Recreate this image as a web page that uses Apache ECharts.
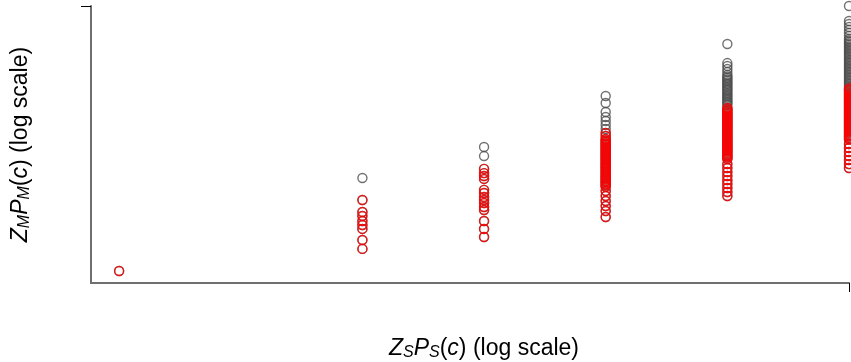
<!DOCTYPE html>
<html>
<head>
<meta charset="utf-8">
<script src="https://cdn.jsdelivr.net/npm/echarts@6/dist/echarts.min.js"></script>
<style>
    html, body { margin: 0; padding: 0; background: #fff; }
    #chart { width: 851px; height: 362px; }
</style>
</head>
<body>
<div id="chart"></div>
<script>
/* x levels (log scale) */
var xLevels = [1, 4, 8, 16, 32, 64];

/* points shown only in grey, per x level */
var greyOnly = [
    [],
    [13.7],
    [29.7, 23.7],
    [106, 89.1, 71.1, 62.8, 56.9, 51.4, 46.6],
    [388, 241, 224, 208, 193,
     179, 172, 166, 160, 154, 148, 143, 138, 133, 128, 123, 119, 114, 110, 106, 102, 98.4, 94.8, 91.3, 87.9, 84.7],
    [1000, 688, 638, 593, 550, 510, 473, 439,
     423, 408, 393, 378, 364, 351, 338, 326, 314, 302, 291, 280, 270, 260, 251, 241,
     233, 224, 216, 208, 200, 193, 186, 179, 172, 166, 160, 154, 148, 143, 138, 133]
];

/* points highlighted in red, per x level */
var redPoints = [
    [1.35],
    [7.92, 5.87, 5.32, 4.69, 4.25, 3.85, 2.92, 2.34],
    [17.2, 15.5, 14.4, 13.4, 10.2, 9.44, 8.54, 7.92, 7.35, 6.65, 6.18, 4.69, 3.85, 3.15],
    [42.2, 39.1,
     36.3, 34.9, 33.7, 32.4, 31.2, 30.1, 29.0, 27.9, 26.9, 25.9, 25.0, 24.0, 23.2, 22.3, 21.5, 20.7, 19.9,
     19.2, 18.5, 17.8, 17.2, 16.5, 15.9, 15.3, 14.8, 14.2, 13.7, 13.2, 12.7, 12.3, 11.8, 11.4, 11.0,
     9.92, 8.76, 7.73, 6.82, 6.02, 5.19],
    [78.6, 75.7, 72.9, 70.2, 67.7, 65.2, 62.8, 60.5, 58.3, 56.1, 54.1, 52.1, 50.2, 48.3, 46.6, 44.8, 43.2, 41.6,
     40.1, 38.6, 37.2, 35.8, 34.5, 33.2, 32.0, 30.8, 29.7, 28.6, 27.6, 26.6, 25.6, 24.6, 23.7, 22.9, 22.0,
     19.4, 17.6, 15.9, 14.4, 13.0, 11.8, 10.7, 9.67, 8.76],
    [128, 123, 119, 114, 110, 106, 102, 98.4, 94.8, 91.3, 87.9, 84.7, 81.6, 78.6, 75.7, 72.9, 70.2, 67.7,
     65.2, 62.8, 60.5, 58.3, 56.1, 54.1, 52.1, 50.2, 48.3, 46.6, 44.8, 43.2, 41.6, 40.1, 38.6, 37.2, 35.8,
     32.0, 29.0, 26.2, 23.7, 21.5, 19.4, 17.6]
];

function toPairs(lists) {
    var out = [];
    for (var i = 0; i < xLevels.length; i++) {
        for (var j = 0; j < lists[i].length; j++) {
            out.push([xLevels[i], lists[i][j]]);
        }
    }
    return out;
}

var greyData = toPairs(greyOnly).concat(toPairs(redPoints));
var redData = toPairs(redPoints);

var font = 'Liberation Sans';
var richName = {
    i: { fontStyle: 'italic', fontSize: 23, fontFamily: font, color: '#000' },
    s: { fontStyle: 'italic', fontSize: 16, fontFamily: font, color: '#000', verticalAlign: 'bottom', padding: [9, 0, 0, 0] },
    n: { fontSize: 23, fontFamily: font, color: '#000' }
};

var axisLine = { show: true, lineStyle: { color: '#6f6f6f', width: 2 } };

var myChart = echarts.init(document.getElementById('chart'));

var option = {
    animation: false,
    backgroundColor: '#fff',
    grid: { left: 91, right: 2, top: 6, bottom: 79, outerBoundsMode: 'none', containLabel: false },
    xAxis: {
        type: 'log',
        logBase: 2,
        min: 0.852,
        max: 64,
        name: '{i|Z}{s|S}{i|P}{s|S}{n|(}{i|c}{n|) (log scale)}',
        nameLocation: 'middle',
        nameGap: 53,
        nameTextStyle: { fontFamily: font, fontSize: 23, color: '#000', rich: richName, padding: [0, 0, 0, 28] },
        axisLine: axisLine,
        axisTick: { show: true, customValues: [64], length: 9, lineStyle: { color: '#000', width: 1 } },
        axisLabel: { show: false },
        splitLine: { show: false },
        minorTick: { show: false }
    },
    yAxis: {
        type: 'log',
        logBase: 10,
        min: 1,
        max: 1000,
        name: '{i|Z}{s|M}{i|P}{s|M}{n|(}{i|c}{n|) (log scale)}',
        nameLocation: 'middle',
        nameGap: 58,
        nameRotate: 90,
        nameTextStyle: { fontFamily: font, fontSize: 23, color: '#000', rich: richName },
        axisLine: axisLine,
        axisTick: { show: true, customValues: [1000], length: 10, lineStyle: { color: '#000', width: 1 } },
        axisLabel: { show: false },
        splitLine: { show: false },
        minorTick: { show: false }
    },
    series: [
        {
            name: 'all',
            type: 'scatter',
            symbol: 'circle',
            symbolSize: 9,
            clip: false,
            itemStyle: { color: 'rgba(0,0,0,0)', borderColor: '#4d4d4d', borderWidth: 1.4 },
            data: greyData
        },
        {
            name: 'highlighted',
            type: 'scatter',
            symbol: 'circle',
            symbolSize: 9,
            clip: false,
            itemStyle: { color: 'rgba(0,0,0,0)', borderColor: '#ff0000', borderWidth: 1.4 },
            data: redData
        }
    ]
};

myChart.setOption(option);
</script>
</body>
</html>
